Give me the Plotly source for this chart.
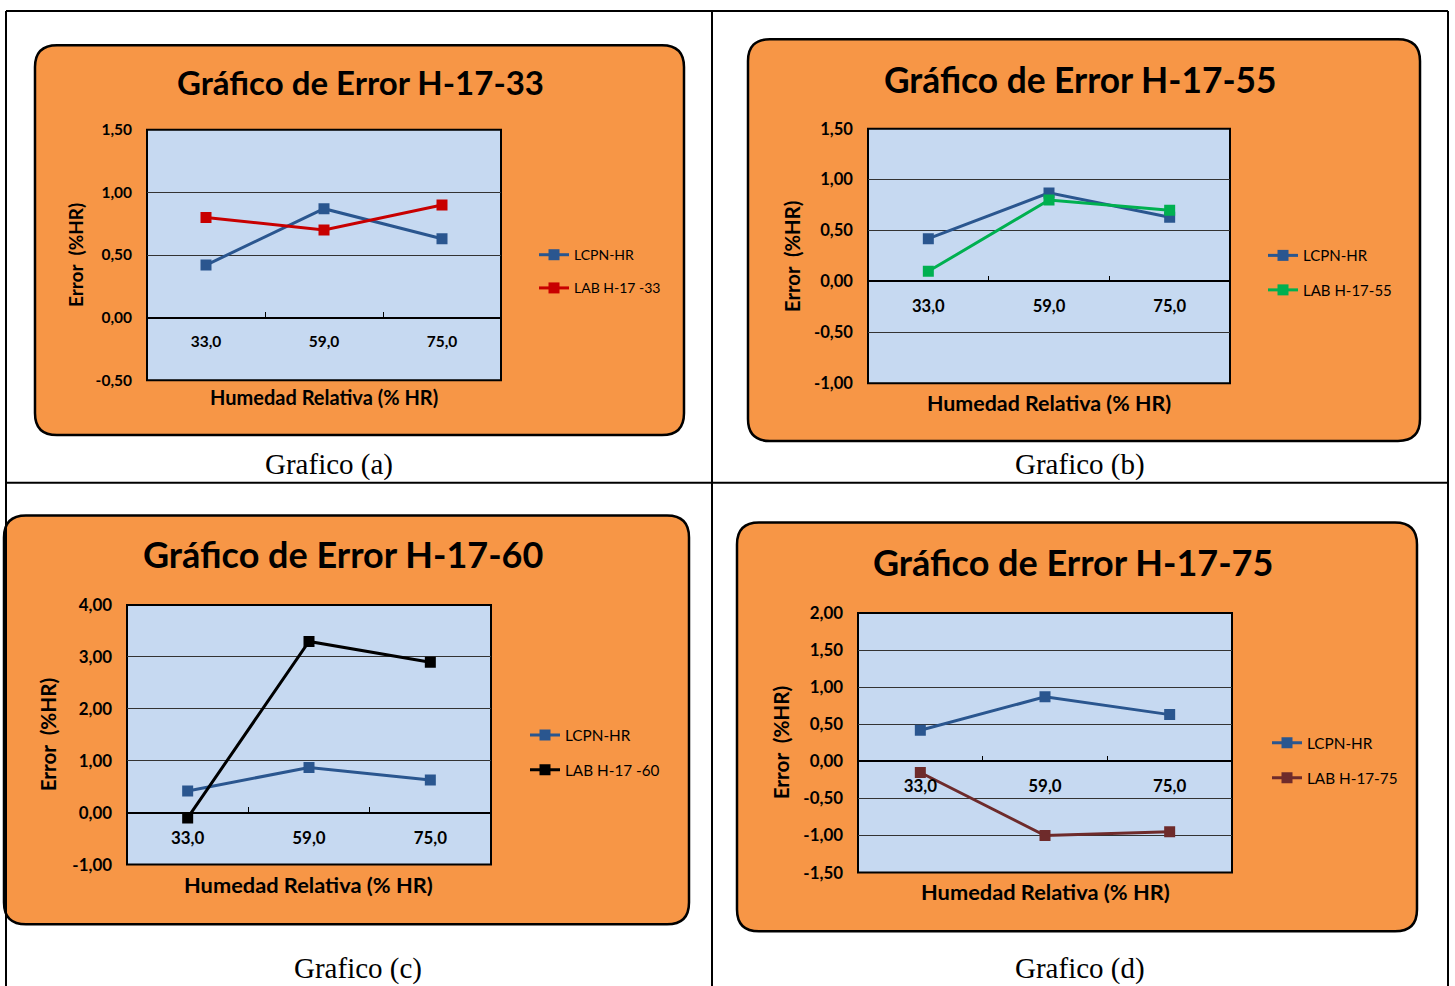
import plotly.graph_objects as go

W, H = 1455, 986

# ---- data -------------------------------------------------------------
humidity = ["33,0", "59,0", "75,0"]

lcpn_hr = [0.42, 0.87, 0.63]
lab_h17_33 = [0.80, 0.70, 0.90]
lab_h17_55 = [0.10, 0.80, 0.70]
lab_h17_60 = [-0.10, 3.30, 2.90]
lab_h17_75 = [-0.15, -1.00, -0.95]

yticks_a = [-0.5, 0.0, 0.5, 1.0, 1.5]
yticks_b = [-1.0, -0.5, 0.0, 0.5, 1.0, 1.5]
yticks_c = [-1.0, 0.0, 1.0, 2.0, 3.0, 4.0]
yticks_d = [-1.5, -1.0, -0.5, 0.0, 0.5, 1.0, 1.5, 2.0]

titles = ["Gráfico de Error H-17-33", "Gráfico de Error H-17-55",
          "Gráfico de Error H-17-60", "Gráfico de Error H-17-75"]
captions = ["Grafico (a)", "Grafico (b)", "Grafico (c)", "Grafico (d)"]
lab_names = ["LAB H-17 -33", "LAB H-17-55", "LAB H-17 -60", "LAB H-17-75"]
lab_values = [lab_h17_33, lab_h17_55, lab_h17_60, lab_h17_75]
yticks_all = [yticks_a, yticks_b, yticks_c, yticks_d]

# ---- styling ----------------------------------------------------------
ORANGE = "#F79646"
PLOT_BG = "#C6D9F1"
BLUE = "#2A568F"
lab_colors = ["#C80000", "#00B050", "#000000", "#6E2B2B"]
FONT = "Lato"

# pixel boxes for each panel: card, plot area, legend, title, captions;
# "s" scales the text of each card
panels = [
    dict(card=(35, 42, 684, 434), plot=(147, 127, 501, 379), legend=(534, 237), s=1.0,
         title=(360, 79), xtitle=(324, 396), ytitle=(75, 253), caption=(329, 464)),
    dict(card=(748, 36, 1420, 440), plot=(868, 126, 1230, 382), legend=(1263, 237), s=1.07,
         title=(1080, 76), xtitle=(1049, 402), ytitle=(792, 254), caption=(1080, 464)),
    dict(card=(4, 515, 689, 926), plot=(127, 605, 491, 866), legend=(525, 719), s=1.09,
         title=(343, 554), xtitle=(308, 886), ytitle=(48, 735), caption=(358, 970)),
    dict(card=(737, 522, 1417, 933), plot=(858, 613, 1232, 874), legend=(1267, 727), s=1.09,
         title=(1073, 562), xtitle=(1045, 893), ytitle=(781, 743), caption=(1080, 970)),
]

# vertical extent of the drawing surface on the page
TOP, SPAN = 7.6, 970.4


def px(x):
    return x / W


def py(y):
    return 1 - (y - TOP) / SPAN


def rounded_rect(x0, y0, x1, y1, r):
    def p(x, y):
        return f"{px(x):.5f},{py(y):.5f}"
    return (f"M {p(x0 + r, y0)} L {p(x1 - r, y0)} Q {p(x1, y0)} {p(x1, y0 + r)} "
            f"L {p(x1, y1 - r)} Q {p(x1, y1)} {p(x1 - r, y1)} "
            f"L {p(x0 + r, y1)} Q {p(x0, y1)} {p(x0, y1 - r)} "
            f"L {p(x0, y0 + r)} Q {p(x0, y0)} {p(x0 + r, y0)} Z")


def fmt(v):
    return f"{v:.2f}".replace(".", ",")


fig = go.Figure()
shapes = []
annotations = []
layout = {}

for i, pan in enumerate(panels):
    n = "" if i == 0 else str(i + 1)
    xa, ya = f"xaxis{n}", f"yaxis{n}"
    xr, yr = f"x{n}", f"y{n}"
    leg = "legend" if i == 0 else f"legend{i + 1}"
    s = pan["s"]

    ticks = yticks_all[i]
    ymin, ymax = min(ticks), max(ticks)
    x0, y0, x1, y1 = pan["plot"]
    xdom = [px(x0), px(x1)]
    ydom = [py(y1), py(y0)]
    zero_pos = ydom[0] + (0 - ymin) / (ymax - ymin) * (ydom[1] - ydom[0])

    # card + plot area background
    cx0, cy0, cx1, cy1 = pan["card"]
    shapes.append(dict(type="path", path=rounded_rect(cx0, cy0, cx1, cy1, 22),
                       xref="paper", yref="paper", fillcolor=ORANGE,
                       line=dict(color="#000000", width=2.5), layer="below"))
    shapes.append(dict(type="rect", xref=f"{xr} domain", yref=f"{yr} domain",
                       x0=0, x1=1, y0=0, y1=1, fillcolor=PLOT_BG,
                       line=dict(color="#000000", width=2), layer="below"))

    # series
    fig.add_trace(go.Scatter(
        x=humidity, y=lcpn_hr, name="LCPN-HR", mode="lines+markers",
        line=dict(color=BLUE, width=3),
        marker=dict(symbol="square", size=11, color=BLUE),
        xaxis=xr, yaxis=yr, legend=leg, legendgroup=f"g{i}a"))
    fig.add_trace(go.Scatter(
        x=humidity, y=lab_values[i], name=lab_names[i], mode="lines+markers",
        line=dict(color=lab_colors[i], width=3),
        marker=dict(symbol="square", size=11, color=lab_colors[i]),
        xaxis=xr, yaxis=yr, legend=leg, legendgroup=f"g{i}b"))

    tick_font = dict(family=FONT, size=round(15.5 * s, 1), color="#000000", weight="bold")
    layout[xa] = dict(
        domain=xdom, type="category", categoryorder="array", categoryarray=humidity,
        range=[-0.5, 2.5], anchor="free", position=zero_pos,
        showline=True, linecolor="#000000", linewidth=1.5,
        ticks="inside", tickson="boundaries", ticklen=5, tickcolor="#000000",
        tickfont=tick_font, ticklabelstandoff=10,
        showgrid=False, zeroline=False, fixedrange=True)
    layout[ya] = dict(
        domain=ydom, anchor=xr, range=[ymin, ymax],
        tickmode="array", tickvals=ticks, ticktext=[fmt(v) for v in ticks],
        showgrid=True, gridcolor="#333333", gridwidth=1,
        zeroline=True, zerolinecolor="#000000", zerolinewidth=1.5,
        showline=False, ticks="", ticklabelstandoff=14,
        tickfont=tick_font, fixedrange=True)
    layout[leg] = dict(
        x=px(pan["legend"][0]), y=py(pan["legend"][1]), xanchor="left", yanchor="top",
        bgcolor="rgba(0,0,0,0)", borderwidth=0, traceorder="grouped",
        tracegroupgap=12, font=dict(family=FONT, size=round(14 * s, 1), color="#000000"))

    # texts
    tx, ty = pan["title"]
    annotations.append(dict(text=titles[i], x=px(tx), y=py(ty), xref="paper", yref="paper",
                            showarrow=False, xanchor="center", yanchor="middle",
                            font=dict(family=FONT, size=round(33 * s, 1), color="#000000",
                                      weight="bold")))
    tx, ty = pan["xtitle"]
    annotations.append(dict(text="Humedad Relativa (% HR)", x=px(tx), y=py(ty),
                            xref="paper", yref="paper", showarrow=False,
                            xanchor="center", yanchor="middle",
                            font=dict(family=FONT, size=round(20 * s, 1), color="#000000",
                                      weight="bold")))
    tx, ty = pan["ytitle"]
    annotations.append(dict(text="Error  (%HR)", x=px(tx), y=py(ty), textangle=-90,
                            xref="paper", yref="paper", showarrow=False,
                            xanchor="center", yanchor="middle",
                            font=dict(family=FONT, size=round(19 * s, 1), color="#000000",
                                      weight="bold")))
    tx, ty = pan["caption"]
    annotations.append(dict(text=captions[i], x=px(tx), y=py(ty), xref="paper", yref="paper",
                            showarrow=False, xanchor="center", yanchor="middle",
                            font=dict(family="Liberation Serif", size=29, color="#000000")))

# table rules
for (ax0, ay0, ax1, ay1) in [(6, 7.5, 1448, 7.5), (6, 482, 1448, 482),
                             (6, 7.5, 6, 990), (712, 7.5, 712, 990), (1448, 7.5, 1448, 990)]:
    shapes.append(dict(type="line", xref="paper", yref="paper",
                       x0=px(ax0), y0=py(ay0), x1=px(ax1), y1=py(ay1),
                       line=dict(color="#000000", width=2), layer="above"))

fig.update_layout(
    width=W, height=H, margin=dict(l=0, r=0, t=0, b=0),
    paper_bgcolor="#FFFFFF", plot_bgcolor="rgba(0,0,0,0)",
    showlegend=True, separators=",.",
    shapes=shapes, annotations=annotations, **layout)

fig.write_html("out.html")
